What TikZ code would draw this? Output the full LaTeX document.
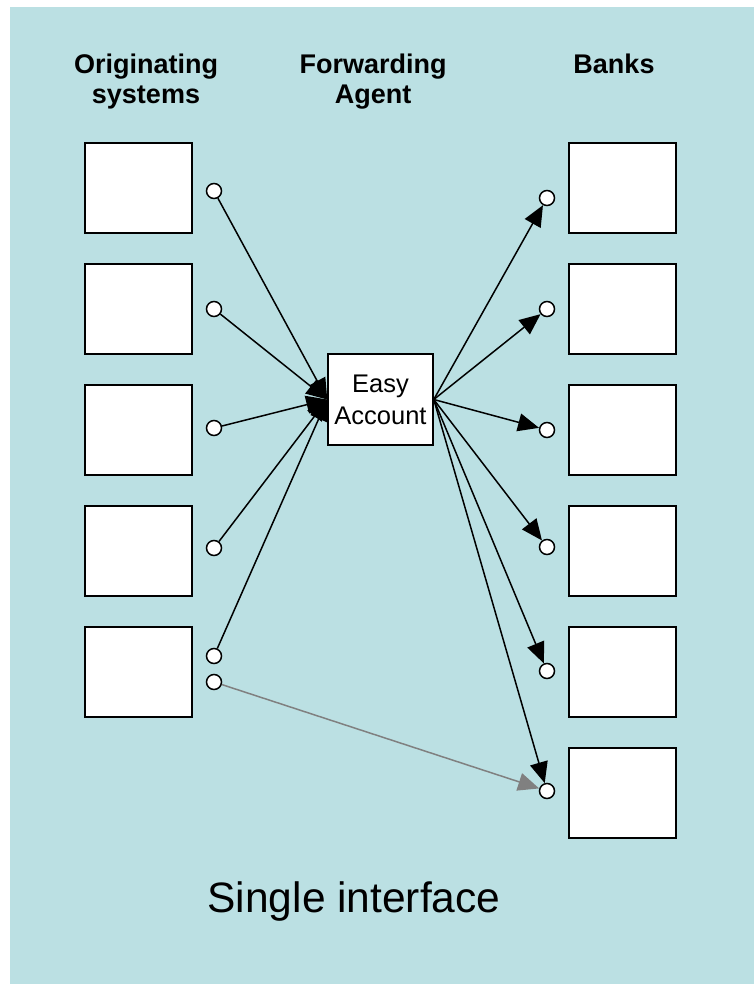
\documentclass[tikz,border=0pt]{standalone}
\usepackage{fontspec}
\setmainfont{Liberation Sans}
\usetikzlibrary{arrows.meta}
\definecolor{slidebg}{RGB}{187,224,227}
\definecolor{feedgray}{RGB}{128,128,128}
\tikzset{
  sysbox/.style={draw=black,line width=1.5pt,fill=white,minimum width=107pt,minimum height=90pt,inner sep=0pt},
  agentbox/.style={sysbox,minimum width=105pt,minimum height=91pt,align=center,font=\fontsize{25.5}{32}\selectfont},
  port/.style={circle,draw=black,line width=1.5pt,fill=white,minimum size=15pt,inner sep=0pt},
  heading/.style={anchor=north,inner sep=0pt,align=center,font=\fontsize{27}{30}\selectfont\bfseries},
  link/.style={-{Triangle[length=21pt,width=18pt]},draw=black,line width=1.5pt},
  feed/.style={link,draw=feedgray}
}
\begin{document}
\begin{tikzpicture}[x=1pt,y=-1pt]
\useasboundingbox (0,0) rectangle (754,984);
\fill[slidebg] (10,7) rectangle (754,984);
% column headings
\node[heading] (hdorig) at (146,54) {Originating\\systems};
\node[heading] (hdagent) at (373,54) {Forwarding\\Agent};
\node[heading] (hdbanks) at (614,54) {Banks};
% originating systems
\node[sysbox] (orig1) at (138.5,188) {};
\node[sysbox] (orig2) at (138.5,309) {};
\node[sysbox] (orig3) at (138.5,430) {};
\node[sysbox] (orig4) at (138.5,551) {};
\node[sysbox] (orig5) at (138.5,672) {};
% banks
\node[sysbox] (bank1) at (622.5,188) {};
\node[sysbox] (bank2) at (622.5,309) {};
\node[sysbox] (bank3) at (622.5,430) {};
\node[sysbox] (bank4) at (622.5,551) {};
\node[sysbox] (bank5) at (622.5,672) {};
\node[sysbox] (bank6) at (622.5,793) {};
% forwarding agent
\node[agentbox] (agent) at (380.5,399.5) {Easy\\Account};
% ports
\node[port] (oc1) at (214,191) {};
\node[port] (oc2) at (214,309) {};
\node[port] (oc3) at (214,428) {};
\node[port] (oc4) at (214,548) {};
\node[port] (oc5) at (214,656) {};
\node[port] (oc6) at (214,682) {};
\node[port] (bc1) at (547,198) {};
\node[port] (bc2) at (547,309) {};
\node[port] (bc3) at (547,430) {};
\node[port] (bc4) at (547,547) {};
\node[port] (bc5) at (547,671) {};
\node[port] (bc6) at (547,791) {};
% connections
\draw[link] (oc1) -- (agent.west);
\draw[link] (oc2) -- (agent.west);
\draw[link] (oc3) -- (agent.west);
\draw[link] (oc4) -- (agent.west);
\draw[link] (oc5) -- (agent.west);
\draw[link] (agent.east) -- (bc1);
\draw[link] (agent.east) -- (bc2);
\draw[link] (agent.east) -- (bc3);
\draw[link] (agent.east) -- (bc4);
\draw[link] (agent.east) -- (bc5);
\draw[link] (agent.east) -- (bc6);
\draw[feed] (oc6) -- (bc6);
% caption
\node[anchor=base,inner sep=0pt,font=\fontsize{42.5}{50}\selectfont] (caption) at (354,912) {Single interface};
\end{tikzpicture}
\end{document}
